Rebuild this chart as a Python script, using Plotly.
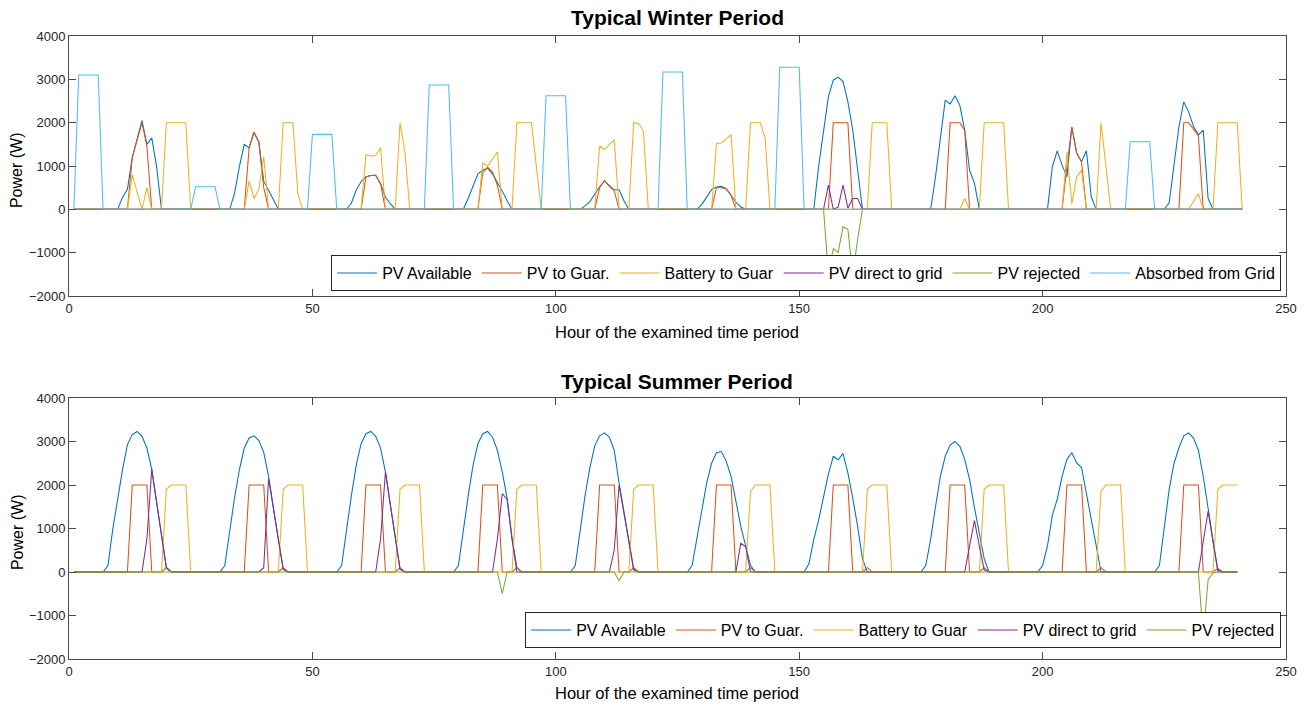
import plotly.graph_objects as go

# ---------------- data (hour -> value segments, all other hours are 0) ----------------
HOURS_WINTER = list(range(1, 242))
HOURS_SUMMER = list(range(1, 241))
X_TICKS = [0, 50, 100, 150, 200, 250]
Y_TICKS = [-2000, -1000, 0, 1000, 2000, 3000, 4000]

SERIES_NAMES = ["PV Available", "PV to Guar.", "Battery to Guar",
                "PV direct to grid", "PV rejected", "Absorbed from Grid"]
SERIES_COLORS = ["#0072BD", "#D95319", "#EDB120", "#7E2F8E", "#77AC30", "#4DBEEE"]

# Winter
W_PV_AVAILABLE = {
    11: [280, 460, 1200, 1620, 2050, 1500, 1650, 980],
    34: [370, 985, 1500, 1420, 1780, 1550, 650, 450, 220],
    58: [140, 445, 637, 752, 780, 785, 590, 285, 130],
    82: [250, 520, 820, 900, 950, 820, 630, 420, 200],
    106: [80, 180, 350, 520, 650, 560, 450, 450, 200],
    130: [115, 285, 454, 515, 530, 477, 323, 169, 54],
    154: [1000, 1800, 2600, 2980, 3050, 2950, 2480, 1830, 900],
    178: [750, 1600, 2520, 2430, 2620, 2400, 1830, 905, 600],
    202: [980, 1350, 1020, 750, 1900, 1300, 1100, 1350, 290],
    226: [150, 1020, 1900, 2480, 2250, 1910, 1720, 1830, 250],
}
W_PV_TO_GUAR = {
    13: [1200, 1600, 2000, 1450],
    37: [1420, 1780, 1550, 500],
    61: [750, 780, 785, 585],
    85: [850, 970, 860, 550],
    109: [500, 670, 530, 430],
    133: [500, 500, 470, 330],
    157: [2000, 2000, 2000, 2000],
    181: [2000, 2000, 2000, 1820],
    205: [1000, 1900, 1300, 1100],
    229: [2000, 2000, 1850, 1700],
}
W_BATTERY_TO_GUAR = {
    13: [800, 400, 0, 500],
    20: [2000, 2000, 2000, 2000, 2000],
    37: [650, 250, 460, 1220],
    44: [2000, 2000, 2000, 380],
    61: [1260, 1230, 1240, 1420],
    68: [2000, 1330],
    85: [1070, 1000, 1160, 1330],
    92: [2000, 2000, 2000, 2000, 1000],
    109: [1460, 1380, 1500, 1610],
    116: [2000, 1980, 1800],
    133: [1520, 1530, 1630, 1720],
    140: [2000, 2000, 2000, 1650],
    165: [2000, 2000, 2000, 2000],
    184: [250],
    188: [2000, 2000, 2000, 2000, 2000],
    205: [1320, 130, 750, 900],
    212: [2000, 1000],
    231: [180, 360],
    236: [2000, 2000, 2000, 2000, 2000],
}
W_PV_DIRECT_TO_GRID = {
    156: [560, 0, 50, 560, 30, 250, 250],
}
W_PV_REJECTED = {
    156: [-1500, -900, -1000, -400, -460, -1500, -700],
}
W_ABSORBED_FROM_GRID = {
    2: [3100, 3100, 3100, 3100, 3100],
    26: [520, 520, 520, 520, 520],
    50: [1730, 1730, 1730, 1730, 1730],
    74: [2870, 2870, 2870, 2870, 2870],
    98: [2620, 2620, 2620, 2620, 2620],
    122: [3170, 3170, 3170, 3170, 3170],
    146: [3280, 3280, 3280, 3280, 3280],
    218: [1560, 1560, 1560, 1560, 1560],
}

# Summer
S_PV_AVAILABLE = {
    8: [150, 990, 1670, 2360, 2930, 3160, 3230, 3120, 2850, 2360, 1600, 850, 100],
    32: [150, 950, 1700, 2350, 2850, 3080, 3130, 3020, 2750, 2200, 1450, 750, 80],
    56: [150, 1000, 1750, 2450, 2950, 3180, 3230, 3120, 2850, 2300, 1550, 800, 80],
    80: [150, 1000, 1750, 2450, 2950, 3180, 3230, 3100, 2800, 2300, 1700, 800, 100],
    104: [150, 1000, 1750, 2400, 2900, 3130, 3200, 3100, 2800, 2050, 1400, 700, 60],
    128: [150, 760, 1450, 2050, 2500, 2740, 2770, 2550, 2200, 1650, 1050, 600, 150],
    152: [190, 750, 1200, 1750, 2250, 2660, 2580, 2720, 2280, 1700, 1050, 300],
    176: [150, 750, 1500, 2200, 2660, 2920, 3000, 2890, 2590, 2130, 1480, 840, 300],
    200: [150, 600, 1300, 1670, 2200, 2590, 2740, 2510, 2400, 1830, 1220, 610],
    224: [150, 1050, 1900, 2500, 2850, 3130, 3200, 3080, 2800, 2200, 1450, 700],
}
S_PV_TO_GUAR = {
    13: [2000, 2000, 2000, 2000], 20: [100],
    37: [2000, 2000, 2000, 2000], 44: [100],
    61: [2000, 2000, 2000, 2000], 68: [100],
    85: [2000, 2000, 2000, 2000], 92: [100],
    109: [2000, 2000, 2000, 2000], 116: [100],
    133: [2000, 2000, 2000, 2000], 140: [100],
    157: [2000, 2000, 2000, 2000], 164: [100],
    181: [2000, 2000, 2000, 2000], 188: [100],
    205: [2000, 2000, 2000, 2000], 212: [100],
    229: [2000, 2000, 2000, 2000], 236: [80],
}
S_BATTERY_TO_GUAR = {
    20: [1900, 2000, 2000, 2000, 2000],
    44: [1900, 2000, 2000, 2000, 2000],
    68: [1900, 2000, 2000, 2000, 2000],
    92: [1900, 2000, 2000, 2000, 2000],
    116: [1900, 2000, 2000, 2000, 2000],
    140: [1850, 2000, 2000, 2000, 2000],
    164: [1900, 2000, 2000, 2000, 2000],
    188: [1900, 2000, 2000, 2000, 2000],
    212: [1850, 2000, 2000, 2000, 2000],
    236: [1900, 2000, 2000, 2000, 2000],
}
S_PV_DIRECT_TO_GRID = {
    16: [760, 2360, 1600, 850, 100],
    40: [100, 2150, 1450, 750, 60],
    64: [760, 2300, 1550, 800, 60],
    88: [760, 1800, 1670, 750],
    112: [500, 2000, 1350, 680, 50],
    138: [660, 580],
    185: [600, 1180, 600, 50],
    233: [700, 1400, 700, 50],
}
S_PV_REJECTED = {
    89: [-500],
    113: [-200],
    233: [-1500, -170, -20],
}


def expand(segments, hours):
    vals = {h: 0 for h in hours}
    for start, seg in segments.items():
        for i, v in enumerate(seg):
            vals[start + i] = v
    return [vals[h] for h in hours]


FONT = "Liberation Sans, Arial, Helvetica, sans-serif"
TXT = "#262626"
AX = "#4a4a4a"
LW = 1.05

fig = go.Figure()

winter = [W_PV_AVAILABLE, W_PV_TO_GUAR, W_BATTERY_TO_GUAR,
          W_PV_DIRECT_TO_GRID, W_PV_REJECTED, W_ABSORBED_FROM_GRID]
summer = [S_PV_AVAILABLE, S_PV_TO_GUAR, S_BATTERY_TO_GUAR,
          S_PV_DIRECT_TO_GRID, S_PV_REJECTED]

for name, color, seg in zip(SERIES_NAMES, SERIES_COLORS, winter):
    fig.add_trace(go.Scatter(x=HOURS_WINTER, y=expand(seg, HOURS_WINTER), mode="lines",
                             name=name, line=dict(color=color, width=LW),
                             xaxis="x", yaxis="y", legend="legend"))
for name, color, seg in zip(SERIES_NAMES, SERIES_COLORS, summer):
    fig.add_trace(go.Scatter(x=HOURS_SUMMER, y=expand(seg, HOURS_SUMMER), mode="lines",
                             name=name, line=dict(color=color, width=LW),
                             xaxis="x2", yaxis="y2", legend="legend2"))

PLOT_H = 623.0
def py(Y):
    return (659 - Y) / PLOT_H

axis_common = dict(showgrid=False, zeroline=False, showline=True, mirror="ticks",
                   ticks="inside", ticklen=7, tickwidth=1, tickcolor=AX,
                   linecolor=AX, linewidth=1,
                   tickfont=dict(family=FONT, size=13, color=TXT))

legend_common = dict(orientation="h", x=0.996, xanchor="right", yanchor="bottom",
                     bgcolor="white", bordercolor=TXT, borderwidth=1, itemwidth=40,
                     font=dict(family=FONT, size=16, color="#000000"))

fig.update_layout(
    width=1309, height=707,
    margin=dict(l=69, r=21, t=36, b=48),
    paper_bgcolor="white", plot_bgcolor="white",
    xaxis=dict(domain=[0, 1], range=[0, 250], tickvals=X_TICKS, anchor="y", **axis_common),
    yaxis=dict(domain=[py(296), 1], range=[-2000, 4000], tickvals=Y_TICKS, anchor="x", **axis_common),
    xaxis2=dict(domain=[0, 1], range=[0, 250], tickvals=X_TICKS, anchor="y2", **axis_common),
    yaxis2=dict(domain=[0, py(398)], range=[-2000, 4000], tickvals=Y_TICKS, anchor="x2", **axis_common),
    legend=dict(y=py(291), **legend_common),
    legend2=dict(y=py(648), **legend_common),
    showlegend=True,
)

annotations = [
    dict(text="<b>Typical Winter Period</b>", x=0.4996, y=py(18), font=dict(size=21)),
    dict(text="<b>Typical Summer Period</b>", x=0.4996, y=py(381), font=dict(size=21)),
    dict(text="Hour of the examined time period", x=0.4996, y=py(332), font=dict(size=16.5)),
    dict(text="Hour of the examined time period", x=0.4996, y=py(693), font=dict(size=16.5)),
    dict(text="Power (W)", x=(17 - 69) / 1219, y=py(170), textangle=-90, font=dict(size=16)),
    dict(text="Power (W)", x=(17 - 69) / 1219, y=py(532), textangle=-90, font=dict(size=16)),
]
for a in annotations:
    a.update(xref="paper", yref="paper", showarrow=False, xanchor="center", yanchor="middle")
    a["font"].update(family=FONT, color="#000000")
fig.update_layout(annotations=annotations)

fig.write_html("out.html")
